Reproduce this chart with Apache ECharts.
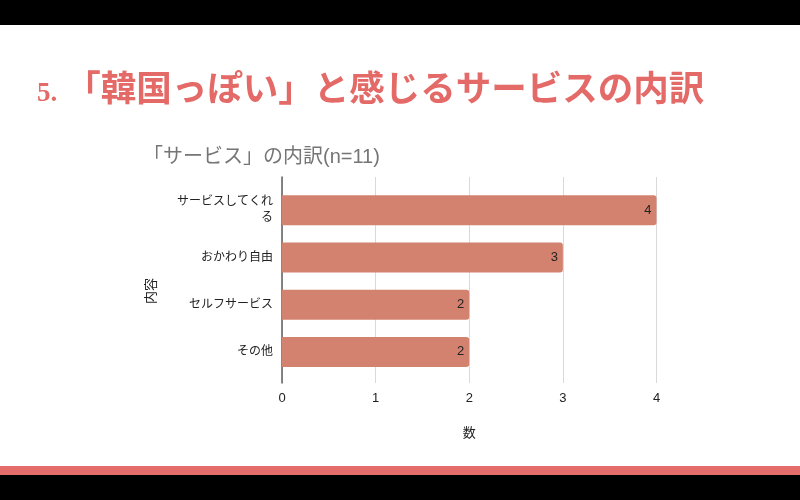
<!DOCTYPE html>
<html>
<head>
<meta charset="utf-8">
<script src="https://cdn.jsdelivr.net/npm/echarts@6/dist/echarts.min.js"></script>
<style>
  html, body { margin: 0; padding: 0; background: #000; }
  #wrap { position: relative; width: 800px; height: 500px; background: #000; overflow: hidden; }
  #sheet { position: absolute; left: 0; top: 25px; width: 800px; height: 441px; background: #fff; }
  #band { position: absolute; left: 0; top: 466px; width: 800px; height: 9px; background: #e46c6a; }
  #main { position: absolute; left: 0; top: 0; width: 800px; height: 500px; }
</style>
</head>
<body>
<div id="wrap">
  <div id="sheet"></div>
  <div id="band"></div>
  <div id="main"></div>
</div>
<script>
// データ
var categories = ["サービスしてくれる", "おかわり自由", "セルフサービス", "その他"];
var counts = [4, 3, 2, 2];
var xTicks = [0, 1, 2, 3, 4];

var FONT = '"Liberation Sans", "Noto Sans CJK JP", sans-serif';

var chart = echarts.init(document.getElementById("main"));
chart.setOption({
  backgroundColor: "transparent",
  animation: false,
  title: [
    {
      left: 37,
      top: 66,
      padding: 0,
      text: "{a|5.}{b|「韓国っぽい」と感じるサービスの内訳}",
      textStyle: {
        rich: {
          a: {
            fontFamily: '"Liberation Serif", "DejaVu Serif", serif',
            fontWeight: "bold",
            fontSize: 27,
            color: "#e46a68",
            lineHeight: 44,
            verticalAlign: "bottom",
            padding: [0, 8, 2, 0]
          },
          b: {
            fontFamily: '"Noto Sans CJK JP", sans-serif',
            fontWeight: "bold",
            fontSize: 35.5,
            color: "#e46a68",
            lineHeight: 44
          }
        }
      }
    },
    {
      left: 143,
      top: 145,
      padding: 0,
      text: "「サービス」の内訳(n=11)",
      textStyle: {
        fontFamily: FONT,
        fontWeight: "normal",
        fontSize: 20,
        color: "#757575",
        lineHeight: 24
      }
    }
  ],
  grid: [
    // 外枠（目盛線と軸線）
    { left: 282, top: 177, width: 374.5, height: 206 },
    // 棒
    { left: 282, top: 186.5, width: 374.5, height: 189 }
  ],
  xAxis: [
    {
      gridIndex: 0,
      type: "value",
      min: xTicks[0],
      max: xTicks[xTicks.length - 1],
      interval: 1,
      name: "数",
      nameLocation: "middle",
      nameGap: 44,
      nameTextStyle: { fontFamily: FONT, fontSize: 13, color: "#222" },
      axisLine: { show: false },
      axisTick: { show: false },
      axisLabel: { margin: 9, fontFamily: FONT, fontSize: 13, color: "#222" },
      splitLine: { show: true, lineStyle: { color: "#d9d9d9", width: 1 } }
    },
    {
      gridIndex: 1,
      type: "value",
      min: xTicks[0],
      max: xTicks[xTicks.length - 1],
      show: false
    }
  ],
  yAxis: [
    {
      gridIndex: 0,
      type: "value",
      min: 0,
      max: 1,
      name: "内容",
      nameLocation: "middle",
      nameRotate: 90,
      nameGap: 124,
      nameTextStyle: { fontFamily: FONT, fontSize: 13, color: "#222", padding: [0, 22, 0, 0] },
      axisLine: { show: true, lineStyle: { color: "#5f5f5f", width: 1.5 } },
      axisTick: { show: false },
      axisLabel: { show: false },
      splitLine: { show: false }
    },
    {
      gridIndex: 1,
      type: "category",
      inverse: true,
      data: categories,
      axisLine: { show: false },
      axisTick: { show: false },
      axisLabel: {
        margin: 9,
        fontFamily: FONT,
        fontSize: 12,
        color: "#222",
        width: 100,
        overflow: "break",
        lineHeight: 16
      }
    }
  ],
  series: [
    {
      type: "bar",
      xAxisIndex: 1,
      yAxisIndex: 1,
      data: counts,
      barWidth: 30,
      itemStyle: { color: "#d3826f", borderRadius: [0, 3, 3, 0] },
      label: {
        show: true,
        position: "insideRight",
        distance: 5,
        fontFamily: FONT,
        fontSize: 13,
        color: "#222"
      }
    }
  ]
});
</script>
</body>
</html>
